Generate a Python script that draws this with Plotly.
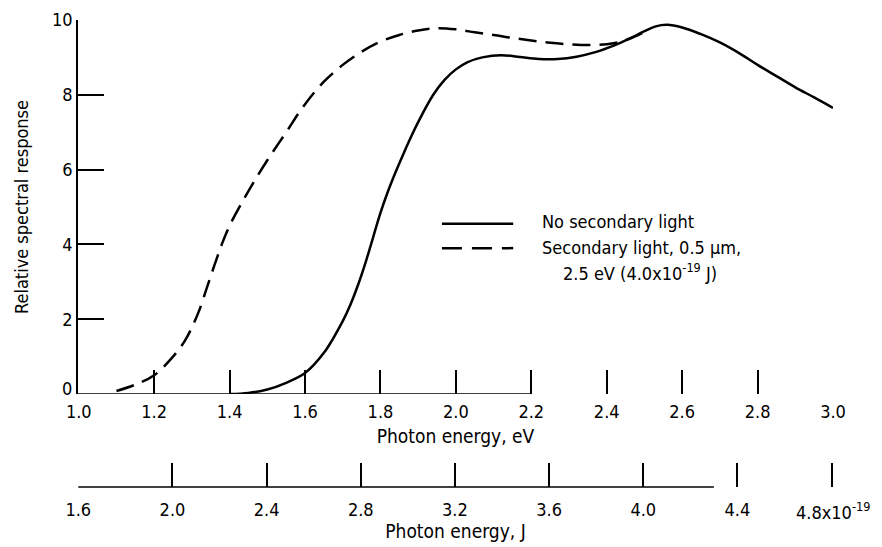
import plotly.graph_objects as go

# ---- data ----
ev_none = [1.40, 1.45, 1.50, 1.55, 1.60, 1.65, 1.70, 1.72, 1.74, 1.76, 1.78, 1.80, 1.82, 1.84, 1.86,
           1.88, 1.90, 1.94, 1.97, 2.00, 2.03, 2.07, 2.12, 2.17, 2.22, 2.27, 2.32, 2.37, 2.42, 2.46,
           2.50, 2.53, 2.56, 2.60, 2.65, 2.70, 2.75, 2.80, 2.85, 2.90, 2.95, 3.00]
resp_none = [0.0, 0.03, 0.12, 0.30, 0.56, 1.10, 1.95, 2.38, 2.90, 3.50, 4.17, 4.84, 5.42, 5.93, 6.40,
             6.85, 7.27, 8.00, 8.40, 8.68, 8.87, 9.00, 9.06, 9.01, 8.96, 8.96, 9.02, 9.14, 9.32, 9.50,
             9.70, 9.83, 9.87, 9.80, 9.62, 9.40, 9.12, 8.80, 8.50, 8.20, 7.93, 7.65]

ev_sec = [1.10, 1.15, 1.20, 1.25, 1.28, 1.30, 1.32, 1.34, 1.36, 1.38, 1.40, 1.43, 1.46, 1.50,
          1.55, 1.60, 1.65, 1.70, 1.75, 1.80, 1.85, 1.90, 1.95, 2.00, 2.05, 2.10, 2.15, 2.20,
          2.25, 2.30, 2.35, 2.40, 2.44, 2.47, 2.50]
resp_sec = [0.08, 0.25, 0.50, 1.00, 1.40, 1.78, 2.25, 2.85, 3.45, 4.02, 4.50, 5.07, 5.60, 6.25,
            7.00, 7.75, 8.35, 8.80, 9.15, 9.42, 9.60, 9.72, 9.78, 9.75, 9.67, 9.60, 9.52, 9.45,
            9.39, 9.35, 9.33, 9.35, 9.43, 9.54, 9.68]

ev_ticks = [1.0, 1.2, 1.4, 1.6, 1.8, 2.0, 2.2, 2.4, 2.6, 2.8, 3.0]
ev_labels = ["1.0", "1.2", "1.4", "1.6", "1.8", "2.0", "2.2", "2.4", "2.6", "2.8", "3.0"]
j_ticks = [1.6, 2.0, 2.4, 2.8, 3.2, 3.6, 4.0, 4.4, 4.8]  # x10^-19 J
j_labels = ["1.6", "2.0", "2.4", "2.8", "3.2", "3.6", "4.0", "4.4", ""]
j_last_label = "4.8x10<sup>-19</sup>"
y_ticks = [0, 2, 4, 6, 8, 10]
y_labels = ["", "2", "4", "6", "8", "10"]
EV_PER_1E19J = 1.0 / 1.602  # 1e-19 J expressed in eV

FONT = "Liberation Sans Narrow, Arial Narrow, DejaVu Sans Condensed, Liberation Sans, sans-serif"

j_in_ev = [j * EV_PER_1E19J for j in j_ticks]
x_range = [0.998, 3.0]

fig = go.Figure()
fig.add_trace(go.Scatter(x=ev_none, y=resp_none, mode="lines", name="No secondary light",
                         line=dict(color="black", width=2.5, shape="spline", smoothing=1.0)))
fig.add_trace(go.Scatter(x=ev_sec, y=resp_sec, mode="lines",
                         name="Secondary light, 0.5 µm, 2.5 eV (4.0x10^-19 J)",
                         line=dict(color="black", width=2.5, dash="18px,9px", shape="spline", smoothing=1.0)))
# invisible trace to carry the energy-in-joules axis
fig.add_trace(go.Scatter(x=x_range, y=[0, 0], xaxis="x2", yaxis="y", mode="lines",
                         line=dict(width=0), hoverinfo="skip", showlegend=False))

# the page body has an 8px margin; the figure is sized to end at the window edge
BODY = 8
W, H = 882 - BODY, 547 - BODY
plot_left, plot_right = 78 - BODY, 833 - BODY
plot_top, plot_bottom_ev, plot_bottom_j = 20 - BODY, 394 - BODY, 487 - BODY
paper_h = plot_bottom_j - plot_top
ydom0 = (plot_bottom_j - plot_bottom_ev) / paper_h

fig.update_layout(
    width=W, height=H,
    margin=dict(l=plot_left, r=W - plot_right, t=plot_top, b=H - plot_bottom_j, autoexpand=False),
    paper_bgcolor="white", plot_bgcolor="white",
    showlegend=False,
    font=dict(family=FONT, size=18, color="black"),
    xaxis=dict(range=x_range, domain=[0, 1], anchor="y", automargin=False,
               tickmode="array", tickvals=ev_ticks, ticktext=ev_labels,
               ticks="inside", ticklen=24, tickwidth=1.5, tickcolor="black",
               ticklabelstandoff=5,
               showline=False, showgrid=False, zeroline=False,
               tickfont=dict(size=18),
               title=dict(text="Photon energy, eV", font=dict(size=19), standoff=8)),
    xaxis2=dict(range=x_range, domain=[0, 1], anchor="free", position=0, overlaying="x",
                automargin=False,
                tickmode="array", tickvals=j_in_ev, ticktext=j_labels,
                ticks="inside", ticklen=24, tickwidth=1.5, tickcolor="black",
                ticklabelstandoff=10,
                showline=False, showgrid=False, zeroline=False,
                tickfont=dict(size=18),
                title=dict(text="Photon energy, J", font=dict(size=19), standoff=2)),
    yaxis=dict(range=[0, 10], domain=[ydom0, 1], anchor="x", automargin=False,
               tickmode="array", tickvals=y_ticks, ticktext=y_labels,
               ticks="inside", ticklen=26, tickwidth=1.5, tickcolor="black",
               showline=True, linecolor="black", linewidth=1.5,
               showgrid=False, zeroline=False,
               tickfont=dict(size=18),
               title=dict(text="Relative spectral response", font=dict(size=18), standoff=19)),
)

# partial baselines, as in the original scan
fig.add_shape(type="line", xref="x", yref="y", x0=x_range[0], x1=2.2, y0=0, y1=0,
              line=dict(color="black", width=1.5))
fig.add_shape(type="line", xref="x2", yref="paper", x0=j_in_ev[0], x1=4.3 * EV_PER_1E19J, y0=0, y1=0,
              line=dict(color="black", width=1.5))

# "0" label of the response axis, set slightly above the baseline as in the original
fig.add_annotation(x=0, y=0, xref="paper", yref="y", xanchor="right", yanchor="middle",
                   xshift=-4, yshift=6, text="0", showarrow=False, font=dict(size=18))

# legend drawn as a key box
fig.add_shape(type="line", xref="x", yref="y", x0=1.963, x1=2.152, y0=4.55, y1=4.55,
              line=dict(color="black", width=2.5))
fig.add_shape(type="line", xref="x", yref="y", x0=1.963, x1=2.152, y0=3.9, y1=3.9,
              line=dict(color="black", width=2.5, dash="20px,10px"))
fig.add_annotation(x=2.223, y=4.6, xref="x", yref="y", xanchor="left", yanchor="middle",
                   text="No secondary light", showarrow=False, font=dict(size=18))
fig.add_annotation(x=2.223, y=3.93, xref="x", yref="y", xanchor="left", yanchor="middle",
                   text="Secondary light, 0.5 µm,", showarrow=False, font=dict(size=18))
fig.add_annotation(x=2.279, y=3.27, xref="x", yref="y", xanchor="left", yanchor="middle",
                   text="2.5 eV (4.0x10<sup>-19</sup> J)", showarrow=False, font=dict(size=18))

# last joule tick label carries the exponent
fig.add_annotation(x=j_in_ev[-1], y=0, xref="x2", yref="paper", xanchor="left", yanchor="top",
                   xshift=-38, yshift=-10, text=j_last_label, showarrow=False,
                   font=dict(size=18))

fig.write_html("out.html")
